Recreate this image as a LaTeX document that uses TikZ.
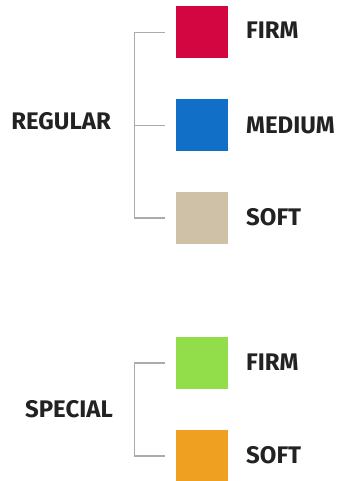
\documentclass[tikz,border=0pt]{standalone}
\usepackage{fontspec}
\setmainfont{Fira Sans}[UprightFont=* SemiBold, BoldFont=* Bold]
\definecolor{txt}{HTML}{222222}
\definecolor{brk}{HTML}{ABABAB}
\definecolor{cfirm}{HTML}{D30641}
\definecolor{cmed}{HTML}{116FC8}
\definecolor{csoft}{HTML}{CFC1A7}
\definecolor{cgreen}{HTML}{92DE4A}
\definecolor{corange}{HTML}{F0A021}
\begin{document}
\begin{tikzpicture}[x=1pt,y=-1pt,
  swatch/.style={minimum width=52pt,minimum height=52pt,inner sep=0pt,draw=none},
  lbl/.style={font=\fontsize{24}{26}\selectfont\bfseries,text=txt,inner sep=0pt,anchor=base west},
  grp/.style={font=\fontsize{24}{26}\selectfont\bfseries,text=txt,inner sep=0pt,anchor=base east},
  brack/.style={draw=brk,line width=1.3pt}]
\useasboundingbox (0,0) rectangle (343,481);
% regular
\node[swatch,fill=cfirm] (s1) at (202,32) {};
\node[swatch,fill=cmed] (s2) at (202,125) {};
\node[swatch,fill=csoft] (s3) at (202,218) {};
\node[lbl] (l1) at (246,38.3) {FIRM};
\node[lbl] (l2) at (246,133.3) {MEDIUM};
\node[lbl] (l3) at (246,225) {SOFT};
\node[grp] (g1) at (111,130) {REGULAR};
\coordinate (b1) at (165,32.3);
\coordinate (b2) at (165,125.3);
\coordinate (b3) at (165,218);
\draw[brack] (b1) -- (134.3,32.3) -- (134.3,218) -- (b3);
\draw[brack] (134.3,125.3) -- (b2);
% special
\node[swatch,fill=cgreen] (s4) at (202,363) {};
\node[swatch,fill=corange] (s5) at (202,455.5) {};
\node[lbl] (l4) at (246,370.5) {FIRM};
\node[lbl] (l5) at (246,463) {SOFT};
\node[grp] (g2) at (113,417) {SPECIAL};
\coordinate (b4) at (165,363);
\coordinate (b5) at (165,456);
\draw[brack] (b4) -- (134.3,363) -- (134.3,456) -- (b5);
\end{tikzpicture}
\end{document}
